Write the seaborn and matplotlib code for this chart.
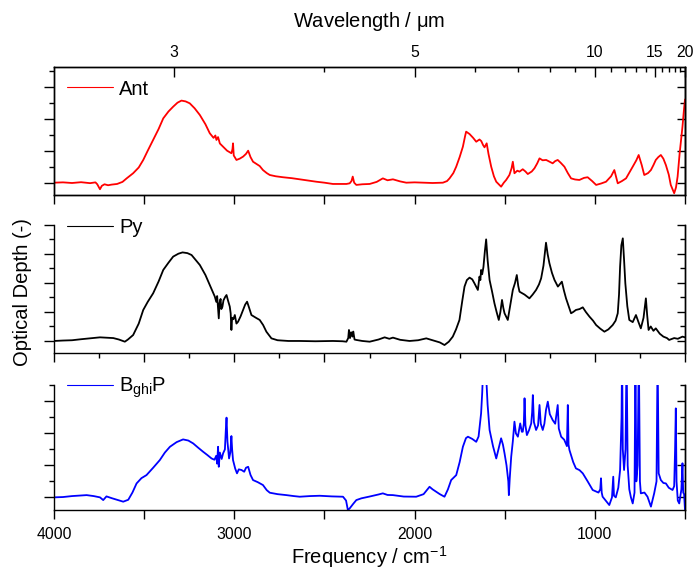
import matplotlib
matplotlib.use("Agg")
import matplotlib.pyplot as plt
from matplotlib.lines import Line2D
import numpy as np
import pandas as pd
import seaborn as sns

# spectra: (frequency / cm-1, optical depth in tick units)
ant_points = [
    (4000, 0.0), (3950, 0.02), (3900, -0.02), (3850, 0.03), (3800, -0.03), (3770, 0.02), (3760, -0.1),
    (3745, -0.41), (3735, -0.2), (3720, -0.1), (3700, -0.16), (3680, -0.12), (3650, -0.08), (3620, 0.05),
    (3597, 0.27), (3561, 0.59), (3530, 0.95), (3505, 1.42), (3480, 2.0), (3450, 2.67), (3420, 3.35),
    (3394, 4.02), (3365, 4.45), (3339, 4.75), (3315, 5.0), (3293, 5.13), (3270, 5.08), (3247, 4.96),
    (3220, 4.65), (3191, 4.23), (3160, 3.65), (3136, 3.09), (3115, 2.8), (3105, 2.95), (3099, 2.67),
    (3090, 2.85), (3080, 2.45), (3062, 2.25), (3040, 2.0), (3016, 1.84), (3010, 2.1), (3007, 2.46),
    (3003, 1.7), (2988, 1.42), (2970, 1.5), (2951, 1.63), (2935, 1.8), (2923, 2.0), (2910, 1.6),
    (2896, 1.31), (2859, 1.04), (2841, 0.79), (2820, 0.6), (2803, 0.48), (2770, 0.4), (2730, 0.34),
    (2680, 0.28), (2637, 0.21), (2590, 0.13), (2545, 0.06), (2500, 0.0), (2453, -0.08), (2400, -0.08),
    (2378, -0.08), (2360, -0.04), (2350, 0.1), (2343, 0.38), (2335, 0.0), (2323, -0.14), (2290, -0.1),
    (2249, -0.08), (2210, 0.05), (2176, 0.27), (2150, 0.15), (2120, 0.21), (2080, 0.08), (2046, 0.0),
    (2000, 0.02), (1954, 0.0), (1900, -0.02), (1843, 0.0), (1820, 0.1), (1806, 0.27), (1785, 0.6),
    (1769, 1.0), (1750, 1.6), (1732, 2.25), (1720, 2.9), (1714, 3.19), (1695, 3.04), (1675, 2.8),
    (1658, 2.56), (1640, 2.7), (1630, 2.6), (1620, 2.35), (1612, 2.21), (1600, 2.46), (1590, 1.8),
    (1575, 1.0), (1560, 0.4), (1547, 0.06), (1520, -0.25), (1505, 0.0), (1492, 0.17), (1474, 0.48),
    (1462, 0.9), (1455, 1.31), (1446, 0.59), (1430, 0.75), (1418, 0.69), (1400, 0.84), (1385, 0.7),
    (1372, 0.54), (1350, 0.7), (1335, 0.9), (1320, 1.2), (1307, 1.52), (1290, 1.4), (1270, 1.42),
    (1250, 1.3), (1234, 1.21), (1220, 1.35), (1206, 1.42), (1190, 1.25), (1169, 1.0), (1150, 0.6),
    (1132, 0.27), (1110, 0.2), (1086, 0.17), (1060, 0.3), (1040, 0.34), (1015, 0.1), (993, -0.14),
    (965, -0.05), (938, 0.06), (910, 0.4), (892, 0.79), (873, -0.04), (850, 0.1), (827, 0.27),
    (810, 0.6), (790, 1.0), (770, 1.4), (757, 1.73), (740, 1.1), (726, 0.48), (705, 0.6), (689, 0.79),
    (675, 1.1), (662, 1.42), (648, 1.6), (634, 1.73), (620, 1.5), (606, 1.1), (590, 0.5), (579, -0.14),
    (560, -0.66), (550, -0.3), (541, 0.38), (530, 1.8), (514, 3.5), (505, 4.65), (500, 5.2),
]

py_points = [
    (4000, 0.0), (3950, 0.03), (3900, 0.05), (3850, 0.12), (3800, 0.18), (3745, 0.25), (3700, 0.22),
    (3671, 0.2), (3640, 0.1), (3607, -0.05), (3590, 0.1), (3561, 0.41), (3530, 1.2), (3505, 2.14),
    (3480, 2.7), (3450, 3.29), (3420, 4.1), (3394, 4.9), (3365, 5.4), (3339, 5.82), (3310, 6.02),
    (3287, 6.11), (3260, 6.06), (3237, 5.93), (3215, 5.6), (3191, 5.24), (3160, 4.55), (3136, 3.86),
    (3120, 3.4), (3108, 3.06), (3100, 2.7), (3095, 3.1), (3090, 2.2), (3086, 1.56), (3082, 2.6),
    (3076, 2.9), (3072, 2.2), (3066, 2.35), (3060, 2.8), (3050, 3.05), (3043, 3.17), (3035, 2.8),
    (3025, 2.37), (3020, 1.9), (3016, 0.76), (3012, 1.6), (3005, 1.5), (2997, 1.79), (2988, 1.2),
    (2979, 1.33), (2965, 1.7), (2951, 2.14), (2940, 2.5), (2929, 2.71), (2918, 2.3), (2905, 1.79),
    (2880, 1.6), (2859, 1.45), (2840, 1.1), (2822, 0.64), (2794, 0.18), (2760, 0.05), (2700, 0.0),
    (2637, 0.0), (2550, -0.02), (2453, 0.0), (2400, -0.02), (2378, -0.05), (2368, 0.2), (2364, 0.76),
    (2358, 0.2), (2352, 0.6), (2345, 0.3), (2340, 0.65), (2333, 0.1), (2323, 0.07), (2290, 0.0),
    (2249, -0.05), (2200, 0.1), (2166, 0.25), (2140, 0.15), (2120, 0.23), (2080, 0.08), (2028, 0.0),
    (1980, 0.05), (1935, 0.18), (1900, 0.05), (1860, -0.1), (1834, -0.28), (1810, -0.05), (1788, 0.3),
    (1770, 0.8), (1751, 1.45), (1735, 2.8), (1723, 3.75), (1710, 4.2), (1695, 4.37), (1680, 4.25),
    (1668, 3.98), (1649, 3.52), (1644, 4.0), (1640, 4.44), (1635, 4.2), (1631, 4.9), (1625, 4.6),
    (1618, 5.1), (1610, 6.2), (1603, 7.01), (1595, 5.6), (1584, 4.21), (1570, 3.4), (1557, 2.6),
    (1545, 2.0), (1533, 1.45), (1524, 2.0), (1515, 2.83), (1508, 2.3), (1501, 1.91), (1483, 1.45),
    (1470, 2.4), (1455, 3.52), (1443, 4.0), (1433, 4.55), (1425, 3.8), (1418, 3.4), (1390, 3.2),
    (1363, 2.94), (1345, 3.2), (1326, 3.52), (1310, 3.9), (1298, 4.32), (1285, 5.2), (1271, 6.78),
    (1262, 6.0), (1252, 5.36), (1238, 4.7), (1224, 4.21), (1205, 3.75), (1195, 3.9), (1183, 4.09),
    (1172, 3.5), (1160, 2.94), (1145, 2.4), (1132, 1.91), (1120, 2.0), (1105, 2.14), (1085, 2.2),
    (1067, 2.32), (1050, 2.0), (1030, 1.68), (1010, 1.4), (993, 1.1), (970, 0.85), (947, 0.64),
    (925, 0.8), (901, 1.1), (885, 1.4), (873, 1.91), (866, 3.2), (860, 5.13), (853, 6.6), (845, 7.08),
    (838, 5.6), (831, 3.98), (820, 2.4), (809, 1.45), (790, 1.3), (772, 1.79), (758, 1.3), (745, 0.87),
    (730, 1.6), (717, 2.94), (710, 1.8), (702, 0.76), (690, 1.0), (675, 0.7), (662, 0.87), (640, 0.5),
    (620, 0.3), (600, 0.2), (588, 0.07), (560, 0.2), (540, 0.15), (514, 0.3), (500, 0.25),
]

bghip_points = [
    (4000, 0.0), (3950, 0.02), (3900, 0.08), (3850, 0.12), (3819, 0.14), (3780, 0.08), (3745, 0.0),
    (3727, -0.17), (3709, 0.06), (3680, -0.05), (3650, -0.15), (3616, -0.27), (3588, -0.15),
    (3565, 0.3), (3542, 0.87), (3515, 1.2), (3487, 1.39), (3450, 1.85), (3413, 2.33), (3385, 2.8),
    (3357, 3.16), (3320, 3.45), (3284, 3.62), (3255, 3.55), (3228, 3.37), (3200, 3.1), (3173, 2.85),
    (3150, 2.65), (3126, 2.43), (3110, 2.35), (3100, 2.6), (3095, 2.1), (3090, 3.16), (3086, 1.91),
    (3080, 2.8), (3070, 2.4), (3062, 2.75), (3052, 3.0), (3047, 4.2), (3043, 4.98), (3038, 3.5),
    (3029, 2.43), (3022, 2.8), (3016, 3.83), (3012, 3.0), (3007, 2.33), (2995, 1.8), (2985, 1.5),
    (2975, 1.75), (2960, 1.71), (2945, 1.6), (2935, 1.85), (2923, 1.91), (2910, 1.4), (2896, 1.08),
    (2870, 0.95), (2841, 0.77), (2820, 0.45), (2803, 0.29), (2760, 0.2), (2711, 0.14), (2670, 0.08),
    (2637, 0.04), (2580, 0.08), (2526, 0.1), (2460, 0.06), (2397, 0.04), (2380, -0.2), (2370, -0.79),
    (2360, -0.69), (2340, -0.4), (2323, -0.17), (2295, -0.06), (2250, 0.05), (2200, 0.18),
    (2176, 0.25), (2150, 0.15), (2120, 0.14), (2060, 0.05), (1991, 0.04), (1950, 0.2), (1917, 0.66),
    (1900, 0.5), (1880, 0.35), (1860, 0.2), (1834, 0.04), (1815, 0.5), (1797, 1.08), (1769, 1.39),
    (1750, 2.2), (1732, 3.16), (1715, 3.7), (1704, 3.79), (1680, 3.65), (1658, 3.47), (1645, 3.8),
    (1631, 5.25), (1625, 6.5), (1621, 7.6), (1612, 7.5), (1603, 7.6), (1595, 5.8), (1584, 4.21),
    (1565, 3.2), (1547, 2.43), (1535, 3.0), (1520, 3.69), (1510, 3.3), (1501, 2.75), (1490, 2.0),
    (1480, 1.0), (1477, 0.14), (1472, 1.2), (1464, 2.54), (1455, 3.5), (1446, 4.73), (1438, 4.0),
    (1427, 3.79), (1414, 4.62), (1405, 4.1), (1400, 4.1), (1394, 4.6), (1390, 6.19), (1385, 4.5),
    (1377, 3.89), (1365, 4.2), (1353, 4.62), (1348, 5.3), (1344, 6.39), (1338, 4.7), (1326, 4.21),
    (1315, 4.5), (1307, 5.77), (1300, 4.6), (1289, 4.21), (1280, 4.6), (1271, 5.46), (1261, 5.98),
    (1250, 5.2), (1234, 4.83), (1220, 4.6), (1206, 5.77), (1200, 4.3), (1187, 3.79), (1170, 3.6),
    (1155, 3.2), (1150, 5.77), (1146, 3.3), (1141, 2.96), (1120, 2.2), (1105, 1.81), (1085, 1.7),
    (1067, 1.5), (1040, 1.0), (1012, 0.46), (980, 0.3), (970, 0.5), (966, 1.19), (962, 0.3),
    (957, 0.04), (940, -0.2), (920, -0.48), (905, 0.0), (898, 1.29), (894, 0.1), (884, 0.0),
    (870, 0.6), (860, 1.71), (852, 5.0), (849, 9.0), (845, 3.0), (838, 1.71), (830, 3.0), (824, 9.0),
    (818, 2.0), (809, 0.5), (800, 0.0), (790, -0.38), (780, 0.3), (775, 9.0), (770, 1.0), (763, 2.0),
    (756, 9.0), (750, 1.0), (745, 0.25), (725, 0.3), (708, 0.04), (689, -0.58), (671, 0.25),
    (658, 1.0), (652, 9.0), (646, 1.5), (634, 1.08), (620, 0.9), (606, 0.87), (590, 0.6), (569, 0.46),
    (560, 0.7), (555, 3.0), (551, 5.56), (547, 1.0), (540, -0.2), (532, -0.38), (520, 0.5),
    (514, 2.13), (510, 0.3), (505, 0.2), (500, -0.79),
]

labels = ["Ant", "Py", r"B$_\mathrm{ghi}$P"]
colors = ["#ff0000", "#000000", "#0000ff"]
ylims = [(-0.77, 7.23), (-0.83, 8.0), (-0.79, 7.02)]
ytick_max = [7, 8, 7]

freq_ticks = [4000, 3500, 3000, 2500, 2000, 1500, 1000, 500]
freq_labels = ["4000", "", "3000", "", "2000", "", "1000", ""]
wl_major = [3, 5, 10, 15, 20]
wl_minor = [4, 6, 7, 8, 9, 11, 12, 13, 14, 16, 17, 18, 19]

sns.set_style("ticks")
plt.rcParams["font.family"] = ["Liberation Sans", "DejaVu Sans"]
plt.rcParams["mathtext.fontset"] = "custom"
plt.rcParams["mathtext.rm"] = "Liberation Sans"
plt.rcParams["mathtext.it"] = "Liberation Sans:italic"
plt.rcParams["axes.linewidth"] = 1.0
plt.rcParams["axes.edgecolor"] = "black"
plt.rcParams["text.color"] = "black"
plt.rcParams["xtick.color"] = "black"
plt.rcParams["ytick.color"] = "black"
plt.rcParams["xtick.labelcolor"] = "black"
plt.rcParams["ytick.labelcolor"] = "black"

fig = plt.figure(figsize=(6.97, 5.70), dpi=100)
rects = [
    [54 / 697, 1 - 195 / 570, 631 / 697, 128 / 570],
    [54 / 697, 1 - 353 / 570, 631 / 697, 128 / 570],
    [54 / 697, 1 - 510 / 570, 631 / 697, 125 / 570],
]
legend_y = [0.828, 0.977, 0.975]

for i, pts in enumerate([ant_points, py_points, bghip_points]):
    ax = fig.add_axes(rects[i])
    df = pd.DataFrame(pts, columns=["Frequency", "OD"])
    sns.lineplot(data=df, x="Frequency", y="OD", ax=ax, color=colors[i], sort=False,
                 estimator=None, linewidth=1.3)
    ax.set_xlim(4000, 500)
    ax.set_ylim(*ylims[i])
    ax.set_xlabel("")
    ax.set_ylabel("")

    # x ticks, labels only on the bottom panel
    ax.set_xticks(freq_ticks)
    if i == 1:
        ax.set_xticks(np.arange(500, 4001, 250), minor=True)
    ax.set_xticklabels(freq_labels if i == 2 else [""] * len(freq_ticks))
    ax.tick_params(axis="x", which="major", direction="out", length=6.5, width=1.0,
                   top=False, labelsize=11.3, pad=6)
    ax.tick_params(axis="x", which="minor", direction="out", length=3.5, width=1.0, top=False)

    # y ticks: outward on the left, inward on the right
    major = list(range(0, ytick_max[i] + 1, 2))
    minor = list(range(1, ytick_max[i] + 1, 2))
    ax.set_yticks(major)
    ax.set_yticks(minor, minor=True)
    ax.tick_params(axis="y", which="both", direction="out", left=True, right=False,
                   labelleft=False, width=1.0)
    ax.tick_params(axis="y", which="major", length=7)
    ax.tick_params(axis="y", which="minor", length=3.6)
    rax = ax.secondary_yaxis("right")
    rax.set_yticks(major)
    rax.set_yticks(minor, minor=True)
    rax.set_yticklabels([])
    rax.tick_params(axis="y", which="both", direction="in", width=1.0)
    rax.tick_params(axis="y", which="major", length=6)
    rax.tick_params(axis="y", which="minor", length=3.6)

    if i > 0:
        ax.spines["top"].set_visible(False)
    else:
        tax = ax.twiny()
        tax.set_xlim(4000, 500)
        tax.set_xticks([1e4 / w for w in wl_major])
        tax.set_xticklabels([str(w) for w in wl_major])
        tax.set_xticks([1e4 / w for w in wl_minor], minor=True)
        tax.tick_params(axis="x", which="major", direction="in", length=7, width=1.0,
                        labelsize=11.3, pad=5)
        tax.tick_params(axis="x", which="minor", direction="in", length=3.6, width=1.0)

    handle = Line2D([], [], color=colors[i], linewidth=0.8)
    ax.legend([handle], [labels[i]], loc="center left", bbox_to_anchor=(0.02, legend_y[i]),
              frameon=False, borderpad=0, borderaxespad=0, handlelength=2.3,
              handletextpad=0.3, fontsize=14.5)

fig.text(369.5 / 697, 1 - 564 / 570, "Frequency / cm$^{-1}$", ha="center", va="baseline",
         fontsize=14.5)
fig.text(369.5 / 697, 1 - 27 / 570, "Wavelength / $\\mathrm{\\mu}$m", ha="center",
         va="baseline", fontsize=14.5)
fig.text(22.5 / 697, 1 - 292 / 570, "Optical Depth (-)", ha="center", va="center",
         rotation=90, fontsize=14.5)

fig.savefig("out.png", dpi=100)
